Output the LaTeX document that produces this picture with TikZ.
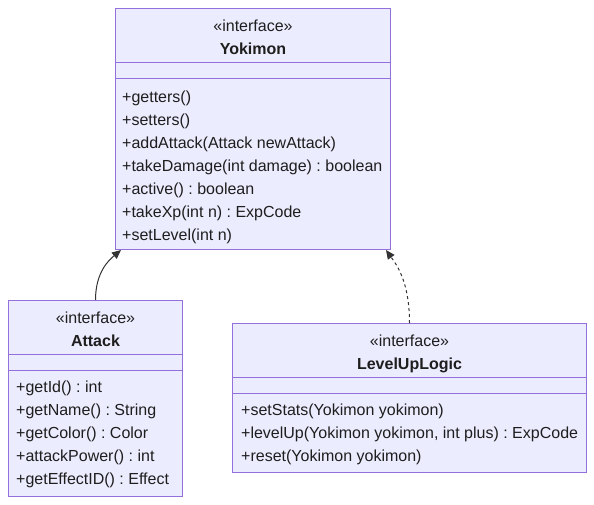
\documentclass[tikz,border=0pt]{standalone}
\usepackage{fontspec}
\setmainfont{Liberation Sans}
\usetikzlibrary{arrows.meta,positioning}
\frenchspacing

\definecolor{umlfill}{HTML}{ECECFF}
\definecolor{umlline}{HTML}{9370DB}
\definecolor{umltext}{HTML}{1E1E1E}
\definecolor{umlarrow}{HTML}{333333}

\tikzset{
  classbox/.style={draw=umlline, fill=umlfill, line width=1pt, inner sep=0pt, anchor=north west},
  divider/.style={draw=umlline, line width=1pt},
  stereo/.style={anchor=base, inner sep=0pt, text=umltext, font=\fontsize{16}{23}\selectfont},
  members/.style={anchor=north west, align=left, inner sep=0pt, text=umltext, font=\fontsize{16}{23}\selectfont},
  assoc/.style={-{Triangle[length=9pt,width=8pt]}, draw=umlarrow, line width=1pt},
}

\begin{document}
\begin{tikzpicture}[x=1pt, y=-1pt]
   \useasboundingbox (0,0) rectangle (594,504);

   % class boxes
   \node[classbox, minimum width=275pt, minimum height=241pt] (yoki) at (115,8)   {};
   \node[classbox, minimum width=174pt, minimum height=196pt] (atk)  at (8,300)   {};
   \node[classbox, minimum width=354pt, minimum height=149pt] (lvl)  at (232,323) {};

   % compartments
   \draw[divider] ([yshift=-54pt]yoki.north west) -- ([yshift=-54pt]yoki.north east);
   \draw[divider] ([yshift=-70pt]yoki.north west) -- ([yshift=-70pt]yoki.north east);
   \draw[divider] ([yshift=-54pt]atk.north west)  -- ([yshift=-54pt]atk.north east);
   \draw[divider] ([yshift=-70pt]atk.north west)  -- ([yshift=-70pt]atk.north east);
   \draw[divider] ([yshift=-54pt]lvl.north west)  -- ([yshift=-54pt]lvl.north east);
   \draw[divider] ([yshift=-70pt]lvl.north west)  -- ([yshift=-70pt]lvl.north east);

   % Yokimon
   \node[stereo] (yokis) at ([yshift=-23pt]yoki.north) {«interface»};
   \node[stereo] (yokin) at ([yshift=-46pt]yoki.north) {\textbf{Yokimon}};
   \node[members] (yokim) at (122,90.5) {+getters()\\+setters()\\+addAttack(Attack newAttack)\\+takeDamage(int damage) : boolean\\+active() : boolean\\+takeXp(int n) : ExpCode\\+setLevel(int n)};

   % Attack
   \node[stereo] (atks) at ([yshift=-23pt]atk.north) {«interface»};
   \node[stereo] (atkn) at ([yshift=-46pt]atk.north) {\textbf{Attack}};
   \node[members] (atkm) at (16,380.5) {+getId() : int\\+getName() : String\\+getColor() : Color\\+attackPower() : int\\+getEffectID() : Effect};

   % LevelUpLogic
   \node[stereo] (lvls) at ([yshift=-23pt]lvl.north) {«interface»};
   \node[stereo] (lvln) at ([yshift=-46pt]lvl.north) {\textbf{LevelUpLogic}};
   \node[members] (lvlm) at (241,403.5) {+setStats(Yokimon yokimon)\\+levelUp(Yokimon yokimon, int plus) : ExpCode\\+reset(Yokimon yokimon)};

   % relations
   \draw[assoc] (atk.north) .. controls +(0,-28) and +(-12,10) .. ([xshift=6pt]yoki.south west);
   \draw[assoc, dashed] (lvl.north) .. controls +(0,-42) and +(10,14) .. ([xshift=-5pt]yoki.south east);
\end{tikzpicture}
\end{document}
